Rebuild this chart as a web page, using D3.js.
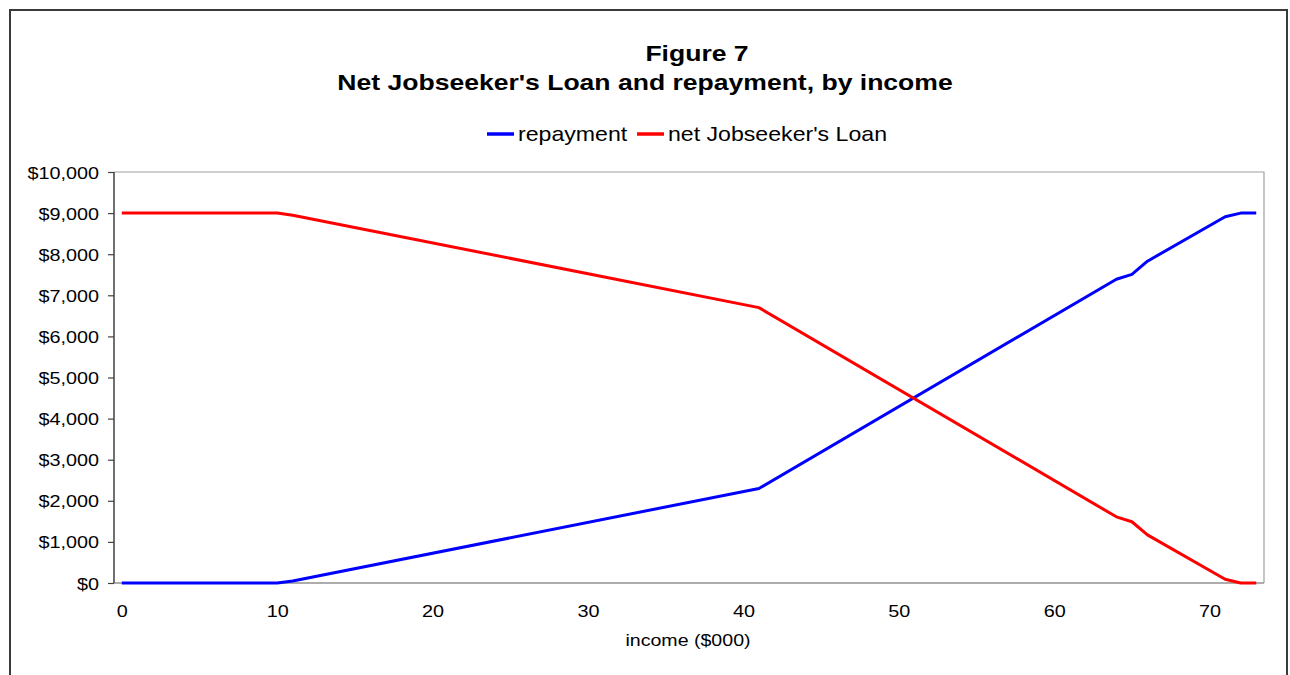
<!DOCTYPE html>
<html>
<head>
<meta charset="utf-8">
<script src="https://cdn.jsdelivr.net/npm/d3@7"></script>
<style>
  html, body { margin: 0; padding: 0; background: #fff; }
  svg { display: block; }
  text { font-family: "Liberation Sans", Arial, sans-serif; fill: #000; }
</style>
</head>
<body>
<svg id="chart" width="1290" height="675"></svg>
<script>
// ---- data (breakpoints; lines are straight between them) ----
const incomeRepay = [0, 10, 11, 41, 64, 65, 66, 71, 72, 73];
const repayment   = [0, 0, 50, 2300, 7390, 7510, 7830, 8910, 9000, 9000];
const incomeNet   = [0, 10, 11, 41, 64, 65, 66, 71, 72, 73];
const netLoan     = [9000, 9000, 8950, 6700, 1610, 1490, 1170, 90, 0, 0];
const xTicks = [0, 10, 20, 30, 40, 50, 60, 70];
const yTicks = [0, 1000, 2000, 3000, 4000, 5000, 6000, 7000, 8000, 9000, 10000];
const seriesNames = ["repayment", "net Jobseeker's Loan"];
const seriesColors = ["#0000FF", "#FF0000"];
const titleLines = ["Figure 7", "Net Jobseeker's Loan and repayment, by income"];
const xTitle = "income ($000)";

const SX = 1.18; // horizontal stretch of the reference text
const svg = d3.select("#chart");

// outer frame
svg.append("rect").attr("x", 10).attr("y", 10).attr("width", 1277).attr("height", 700)
  .attr("fill", "none").attr("stroke", "#3a3a3a").attr("stroke-width", 2);

const L = 114, R = 1264, T = 172, B = 583;
const x = d3.scaleLinear().domain([-0.5, 73.5]).range([L, R]);
const y = d3.scaleLinear().domain([0, 10000]).range([B, T]);

function stext(g, px, py, str, size, anchor, weight) {
  g.append("text")
    .attr("transform", `translate(${px},${py}) scale(${SX},1)`)
    .attr("text-anchor", anchor)
    .style("font-size", size + "px")
    .style("font-weight", weight || "normal")
    .text(str);
}

// plot area border (top/right gray)
svg.append("path")
  .attr("d", `M${L},${T}H${R}V${B}`)
  .attr("fill", "none").attr("stroke", "#a0a0a0").attr("stroke-width", 1.2);

// x axis (no ticks, gray line)
const xAxis = d3.axisBottom(x).tickValues(xTicks).tickSize(0).tickPadding(0).tickFormat(d3.format("d"));
const gx = svg.append("g").attr("transform", `translate(0,${B})`).call(xAxis);
gx.select(".domain").attr("stroke", "#909090").attr("stroke-width", 1.5).attr("d", `M${L},0H${R}`);
gx.selectAll(".tick text").remove();
gx.selectAll(".tick").each(function(d) {
  stext(d3.select(this), 0, 34, String(d), 16.8, "middle");
});

// y axis
const yAxis = d3.axisLeft(y).tickValues(yTicks).tickSize(6).tickPadding(0)
  .tickFormat(d => "$" + d3.format(",")(d));
const gy = svg.append("g").attr("transform", `translate(${L},0)`).call(yAxis);
gy.select(".domain").attr("stroke", "#404040").attr("stroke-width", 1.5).attr("d", `M0,${B}V${T}`);
gy.selectAll(".tick line").attr("stroke", "#404040").attr("stroke-width", 1.2);
gy.selectAll(".tick text").remove();
gy.selectAll(".tick").each(function(d) {
  stext(d3.select(this), -15, 6, "$" + d3.format(",")(d), 16.8, "end");
});

// lines
const line = d3.line().x(d => x(d[0])).y(d => y(d[1]));
const seriesData = [
  incomeRepay.map((v, i) => [v, repayment[i]]),
  incomeNet.map((v, i) => [v, netLoan[i]])
];
seriesData.forEach((s, i) => {
  svg.append("path").datum(s).attr("d", line)
    .attr("fill", "none").attr("stroke", seriesColors[i])
    .attr("stroke-width", 3).attr("stroke-linejoin", "round");
});

// titles
stext(svg, 697, 61, titleLines[0], 22.5, "middle", "bold");
stext(svg, 645, 90, titleLines[1], 22.5, "middle", "bold");
stext(svg, 688, 646, xTitle, 16.6, "middle");

// legend
const legendItems = [
  { x1: 487, x2: 514, tx: 518 },
  { x1: 637, x2: 664, tx: 668 }
];
legendItems.forEach((it, i) => {
  svg.append("line").attr("x1", it.x1).attr("x2", it.x2).attr("y1", 134).attr("y2", 134)
    .attr("stroke", seriesColors[i]).attr("stroke-width", 3.5);
  stext(svg, it.tx, 141, seriesNames[i], 19.6, "start");
});
</script>
</body>
</html>
